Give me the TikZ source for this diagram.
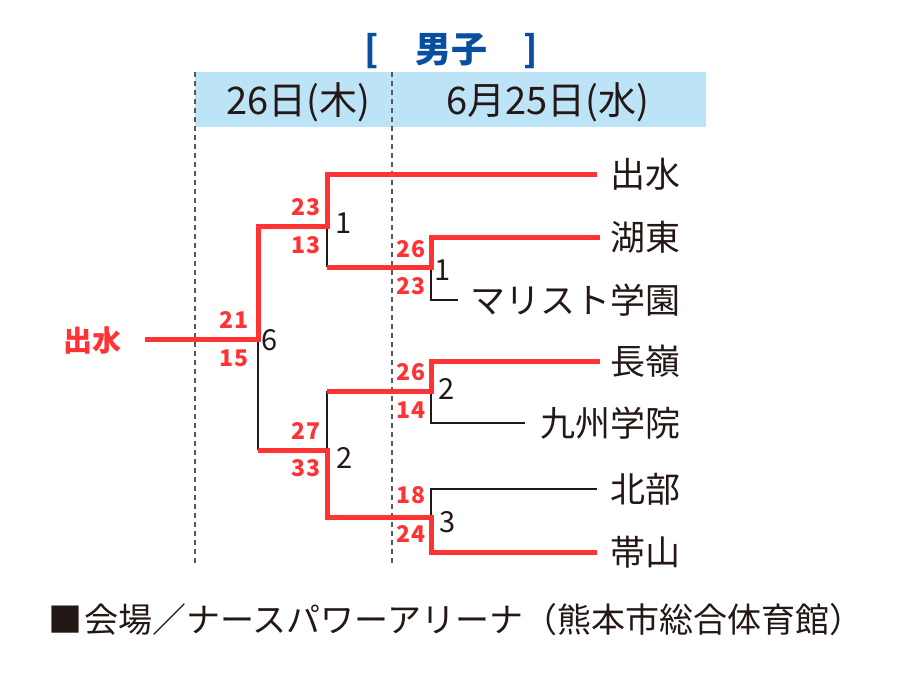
\documentclass[tikz,border=0pt]{standalone}
\usepackage{fontspec}
\setmainfont{Noto Sans CJK JP}
\definecolor{bred}{HTML}{FF3333}
\definecolor{bandc}{HTML}{BDE3F7}
\definecolor{ttl}{HTML}{0A4EA2}
\definecolor{ink}{HTML}{231815}
\definecolor{dashc}{HTML}{595757}
\begin{document}
\begin{tikzpicture}[x=1pt,y=-1pt,
  win/.style={draw=bred,line width=5pt,line join=miter,line cap=butt},
  lose/.style={draw=ink,line width=2pt,line cap=butt,line join=miter},
  team/.style={anchor=east,inner sep=0pt,font=\fontsize{35}{35}\selectfont,text=ink},
  score/.style={inner sep=0pt,font=\fontsize{23}{23}\selectfont\bfseries,text=bred},
  rnd/.style={inner sep=0pt,font=\fontsize{29}{29}\selectfont,text=ink},
  datel/.style={inner sep=0pt,font=\fontsize{38}{38}\selectfont,text=ink},
  vline/.style={draw=dashc,line width=1.2pt,dash pattern=on 5pt off 4pt}]
\useasboundingbox (0,0) rectangle (900,680);
\fill[bandc] (195,72) rectangle (706,127);
\coordinate (d1t) at (195,72); \coordinate (d1b) at (195,565);
\coordinate (d2t) at (392,72); \coordinate (d2b) at (392,565);
\draw[vline] (d1t) -- (d1b);
\draw[vline] (d2t) -- (d2b);
% title and dates
\node[inner sep=0pt,font=\fontsize{36}{36}\selectfont\bfseries,text=ttl] (title) at (451,51) {[　男子　]};
\node[datel] (day1) at (298,102) {26日(木)};
\node[datel] (day2) at (548,102) {6月25日(水)};
% teams
\node[team] (n1) at (681,174) {出水};
\node[team] (n2) at (681,237) {湖東};
\node[team] (n3) at (681,300) {マリスト学園};
\node[team] (n4) at (681,361) {長嶺};
\node[team] (n5) at (681,423) {九州学院};
\node[team] (n6) at (681,489) {北部};
\node[team] (n7) at (681,552) {帯山};
\node[inner sep=0pt,font=\fontsize{29}{29}\selectfont\bfseries,text=bred] (champ) at (92,340) {出水};
% coordinates
\coordinate (e1) at (597,174); \coordinate (e2) at (600,237); \coordinate (e3) at (458,300);
\coordinate (e4) at (600,361); \coordinate (e5) at (525,423); \coordinate (e6) at (597,489);
\coordinate (e7) at (597,552);
\coordinate (a2) at (431,237); \coordinate (a3) at (431,300); \coordinate (j1) at (431,267);
\coordinate (a4) at (431,361); \coordinate (a5) at (431,423); \coordinate (j2) at (431,391);
\coordinate (a6) at (431,489); \coordinate (a7) at (431,552); \coordinate (j3) at (431,517);
\coordinate (k1t) at (327,174); \coordinate (k1) at (327,226); \coordinate (k1b) at (327,267);
\coordinate (k2t) at (327,391); \coordinate (k2) at (327,450); \coordinate (k2b) at (327,517);
\coordinate (mt) at (258,226); \coordinate (m) at (258,339); \coordinate (mb) at (258,450);
\coordinate (f) at (145,339);
% black (losing) lines
\draw[lose] (k1) -- (k1b);
\draw[lose] (j1) -- (a3) -- (e3);
\draw[lose] (j2) -- (a5) -- (e5);
\draw[lose] (e6) -- (a6) -- (j3);
\draw[lose] (k2t) -- (k2);
\draw[lose] (m) -- (mb);
% red (winning) lines
\draw[win] (f) -- (m) -- (mt) -- (k1) -- (k1t) -- (e1);
\draw[win] (e2) -- (a2) -- (j1) -- (k1b);
\draw[win] (e4) -- (a4) -- (j2) -- (k2t);
\draw[win] (e7) -- (a7) -- (j3) -- (k2b) -- (k2) -- (mb);
% scores
\node[score] (s1) at (306,207) {23};
\node[score] (s2) at (306,245) {13};
\node[score] (s3) at (411,249) {26};
\node[score] (s4) at (411,286) {23};
\node[score] (s5) at (234,320) {21};
\node[score] (s6) at (234,358) {15};
\node[score] (s7) at (411,372) {26};
\node[score] (s8) at (411,410) {14};
\node[score] (s9) at (306,431) {27};
\node[score] (s10) at (306,468) {33};
\node[score] (s11) at (411,495) {18};
\node[score] (s12) at (411,534) {24};
% round labels
\node[rnd] (r1) at (344,223) {1};
\node[rnd] (r2) at (443,270) {1};
\node[rnd] (r3) at (270,340) {6};
\node[rnd] (r4) at (447,389) {2};
\node[rnd] (r5) at (345,458) {2};
\node[rnd] (r6) at (448,522) {3};
% footer
\node[anchor=west,inner sep=0pt,font=\fontsize{34}{34}\selectfont,text=ink] (venue) at (50,620) {\makebox[1em][l]{\hspace{-2pt}■}会場／ナースパワーアリーナ（熊本市総合体育館）};
\end{tikzpicture}
\end{document}
